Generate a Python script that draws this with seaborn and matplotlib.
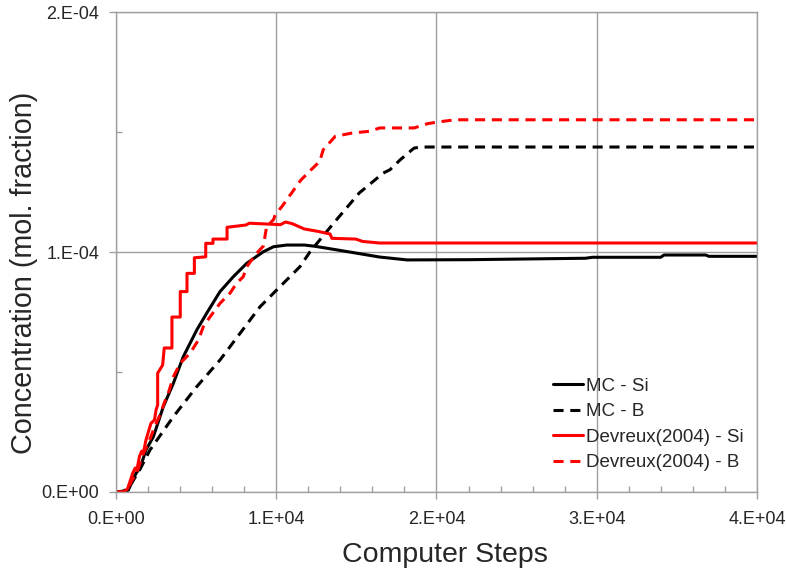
import numpy as np
import pandas as pd
import seaborn as sns
import matplotlib.pyplot as plt
from matplotlib.ticker import MultipleLocator, FuncFormatter
from matplotlib.lines import Line2D

# values
mc_si_steps = [0, 400, 770, 1250, 1500, 1870, 2330, 2950, 3580, 4200, 5040, 5660, 6490, 7320,
               8160, 9190, 9830, 10650, 11750, 12400, 13680, 16460, 18170, 22030, 29300,
               29730, 34000, 34200, 36800, 37000, 40000]
mc_si_conc = [0.0, 0.002e-4, 0.008e-4, 0.078e-4, 0.099e-4, 0.175e-4, 0.23e-4, 0.355e-4, 0.453e-4,
              0.564e-4, 0.675e-4, 0.745e-4, 0.835e-4, 0.897e-4, 0.953e-4, 1.001e-4, 1.022e-4,
              1.029e-4, 1.029e-4, 1.024e-4, 1.01e-4, 0.979e-4, 0.967e-4, 0.968e-4, 0.974e-4,
              0.978e-4, 0.978e-4, 0.9875e-4, 0.9875e-4, 0.982e-4, 0.982e-4]

mc_b_steps = [0, 500, 1000, 1500, 2120, 3580, 5040, 6490, 7740, 8990, 10030, 11480, 12110,
              13680, 15180, 16680, 17100, 17750, 18600, 19030, 40000]
mc_b_conc = [0.0, 0.004e-4, 0.04e-4, 0.095e-4, 0.175e-4, 0.314e-4, 0.439e-4, 0.55e-4, 0.661e-4,
             0.772e-4, 0.842e-4, 0.939e-4, 1.001e-4, 1.128e-4, 1.246e-4, 1.329e-4, 1.343e-4,
             1.385e-4, 1.433e-4, 1.4375e-4, 1.4375e-4]

dev_si_steps = [0, 500, 730, 1040, 1200, 1300, 1460, 1600, 1700, 1870, 2180, 2400, 2500, 2600,
                2600, 2910, 3010, 3490, 3490, 4010, 4010, 4430, 4430, 4890, 4890, 5600, 5600,
                6050, 6050, 6930, 6930, 8110, 8320, 10260, 10580, 11000, 11750, 12600, 13360,
                13470, 14960, 15390, 16460, 40000]
dev_si_conc = [0.0, 0.0, 0.015e-4, 0.078e-4, 0.1e-4, 0.09e-4, 0.147e-4, 0.17e-4, 0.16e-4,
               0.217e-4, 0.286e-4, 0.30e-4, 0.342e-4, 0.3625e-4, 0.495e-4, 0.529e-4, 0.6e-4,
               0.6e-4, 0.729e-4, 0.729e-4, 0.835e-4, 0.835e-4, 0.911e-4, 0.911e-4, 0.976e-4,
               0.98e-4, 1.036e-4, 1.036e-4, 1.054e-4, 1.054e-4, 1.103e-4, 1.1125e-4, 1.12e-4,
               1.114e-4, 1.125e-4, 1.118e-4, 1.096e-4, 1.086e-4, 1.075e-4, 1.057e-4, 1.054e-4,
               1.044e-4, 1.0375e-4, 1.0375e-4]

dev_b_steps = [0, 600, 800, 1000, 1300, 1500, 1700, 2000, 2400, 2800, 3000, 3260, 3580, 4000,
               4620, 5140, 5450, 5870, 6490, 7110, 7530, 7940, 8160, 8780, 9190, 9400, 9830,
               9940, 10360, 11110, 11540, 12180, 12720, 12930, 13680, 14750, 15820, 16460,
               18600, 19460, 20100, 21170, 40000]
dev_b_conc = [0.0, 0.0, 0.02e-4, 0.05e-4, 0.08e-4, 0.12e-4, 0.16e-4, 0.2e-4, 0.27e-4, 0.33e-4,
              0.37e-4, 0.411e-4, 0.48e-4, 0.536e-4, 0.578e-4, 0.633e-4, 0.689e-4, 0.73e-4,
              0.786e-4, 0.828e-4, 0.87e-4, 0.897e-4, 0.939e-4, 0.995e-4, 1.024e-4, 1.105e-4,
              1.135e-4, 1.156e-4, 1.19e-4, 1.26e-4, 1.30e-4, 1.343e-4, 1.378e-4, 1.426e-4,
              1.482e-4, 1.496e-4, 1.503e-4, 1.517e-4, 1.517e-4, 1.535e-4, 1.542e-4, 1.551e-4,
              1.551e-4]

labels = ["MC - Si", "MC - B", "Devreux(2004) - Si", "Devreux(2004) - B"]
colors = ["black", "black", "#ff0000", "#ff0000"]
dashed = [False, True, False, True]

sns.set_style("white")
plt.rcParams['font.family'] = ['Liberation Sans', 'DejaVu Sans']

fig = plt.figure(figsize=(7.86, 5.73), dpi=100)
ax = fig.add_axes([0.1476, 0.1414, 0.963 - 0.1476, 0.979 - 0.1414])

series = [(mc_si_steps, mc_si_conc), (mc_b_steps, mc_b_conc),
          (dev_si_steps, dev_si_conc), (dev_b_steps, dev_b_conc)]
for (xs, ys), lab, col, dsh in zip(series, labels, colors, dashed):
    df = pd.DataFrame({"step": xs, "conc": ys})
    ls = (0, (3.3, 2.2)) if dsh else "-"
    sns.lineplot(x="step", y="conc", data=df, ax=ax, color=col, lw=2.2,
                 linestyle=ls, estimator=None, sort=False, label=lab, legend=False)

ax.set_xlim(0, 40000)
ax.set_ylim(0, 2e-4)

def sci_fmt(v, pos):
    if v == 0:
        return "0.E+00"
    e = int(np.floor(np.log10(abs(v)) + 1e-9))
    m = v / 10 ** e
    return f"{m:.0f}.E{e:+03d}"

ax.xaxis.set_major_locator(MultipleLocator(10000))
ax.xaxis.set_minor_locator(MultipleLocator(2000))
ax.yaxis.set_major_locator(MultipleLocator(1e-4))
ax.yaxis.set_minor_locator(MultipleLocator(0.5e-4))
ax.xaxis.set_major_formatter(FuncFormatter(sci_fmt))
ax.yaxis.set_major_formatter(FuncFormatter(sci_fmt))

gcol = "#a0a0a0"
ax.grid(True, which="major", color=gcol, lw=1)
for s in ax.spines.values():
    s.set_color(gcol)
    s.set_linewidth(1)
ax.tick_params(which="major", direction="out", length=5, color=gcol, width=1,
               labelsize=13, pad=7, bottom=True, left=True)
ax.tick_params(axis="x", which="major", pad=9)
ax.tick_params(which="minor", direction="in", length=4, color=gcol, width=1,
               bottom=True, left=True)

ax.set_xlabel("Computer Steps", fontsize=20.5)
ax.set_ylabel("Concentration (mol. fraction)", fontsize=20.7)
ax.xaxis.set_label_coords(0.513, -0.105)
ax.yaxis.set_label_coords(-0.122, 0.456)

handles = [Line2D([], [], color=c, lw=2.2, linestyle=(0, (3.3, 2.2)) if d else "-")
           for c, d in zip(colors, dashed)]
ax.legend(handles, labels, loc="lower right", bbox_to_anchor=(1.006, 0.008), frameon=False,
          fontsize=13.5, handlelength=1.6, handletextpad=0.2, labelspacing=0.45)

fig.savefig("out.png", dpi=100)
